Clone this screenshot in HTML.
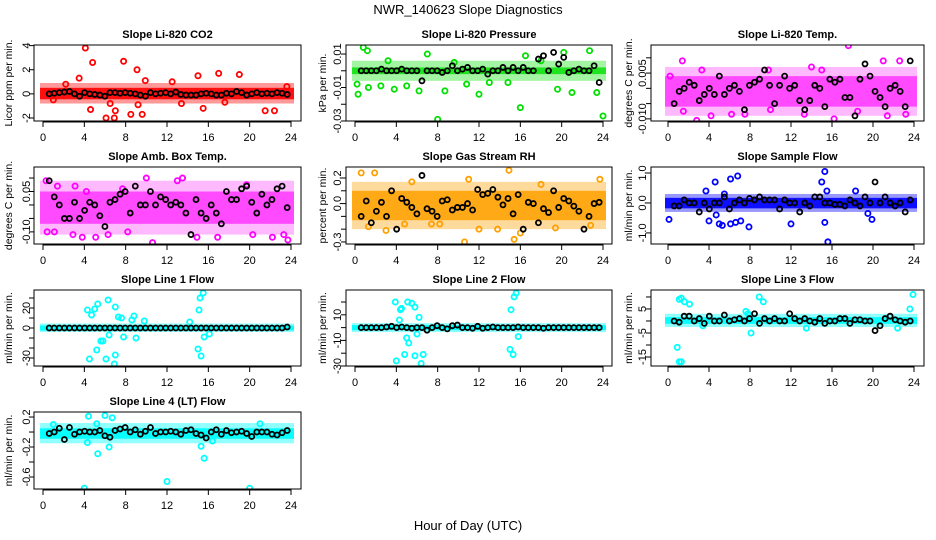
<!DOCTYPE html>
<html><head><meta charset="utf-8"><style>
html,body{margin:0;padding:0;background:#fff;}
svg{display:block;font-family:"Liberation Sans",sans-serif;}
</style></head><body>
<svg id="chart" width="936" height="540" viewBox="0 0 936 540" xmlns="http://www.w3.org/2000/svg">
<text x="468" y="14" font-size="13" text-anchor="middle">NWR_140623  Slope Diagnostics</text>
<text x="468" y="530" font-size="13" text-anchor="middle">Hour of Day (UTC)</text>
</svg>
<script>
const xTicks = [0,4,8,12,16,20,24];
const meanHours = Array.from({length:48},(_,i)=>0.6+i*0.49);

const titles = ["Slope Li-820 CO2","Slope Li-820 Pressure","Slope Li-820 Temp.","Slope Amb. Box Temp.","Slope Gas Stream RH","Slope Sample Flow","Slope Line 1 Flow","Slope Line 2 Flow","Slope Line 3 Flow","Slope Line 4 (LT) Flow"];
const yLabels = ["Licor ppm per min.","kPa per min.","degrees C per min.","degrees C per min.","percent per min.","ml/min per min.","ml/min per min.","ml/min per min.","ml/min per min.","ml/min per min."];
const yRanges = [[-2.25,4.05],[-0.03,0.0154],[-0.0107,0.0142],[-0.145,0.141],[-0.316,0.286],[-1.37,1.2],[-38,38],[-30,29.4],[-18.75,12.9],[-0.76,0.267]];
const yTickVals = [[-2,0,2,4],[-0.03,-0.02,-0.01,0,0.01],[-0.01,-0.005,0,0.005,0.01],[-0.1,-0.05,0,0.05,0.1],[-0.3,-0.2,-0.1,0,0.1,0.2],[-1,0,1],[-30,-20,-10,0,10,20,30],[-30,-20,-10,0,10,20],[-15,-10,-5,0,5,10],[-0.6,-0.4,-0.2,0,0.2]];
const yTickText = [["-2","0","2","4"],["-0.03","","-0.01","","0.01"],["-0.010","","","0.005",""],["-0.10","","","0.05",""],["-0.3","","","0.0","","0.2"],["-1.0","0.0","1.0"],["-30","","","0","","20",""],["-30","","-10","","10",""],["-15","","-5","","5",""],["-0.6","","-0.2","","0.2"]];
const bandLo = [-0.45,-0.002,-0.006,-0.07,-0.13,-0.18,-2.5,-2,-1.2,-0.09];
const bandHi = [0.5,0.002,0.004,0.05,0.1,0.17,2.5,2,1.6,0.05];
const outerLo = [-0.8,-0.006,-0.009,-0.11,-0.2,-0.3,-4,-3.5,-2.5,-0.15];
const outerHi = [0.9,0.006,0.007,0.09,0.17,0.3,4.5,3.5,3,0.12];
const colors = ["#ff0000","#00e000","#ff00ff","#ff00ff","#ffa000","#0000ff","#00ffff","#00ffff","#00ffff","#00ffff"];
const bandOpacity = [0.9,0.8,0.6,0.6,0.85,0.9,0.95,0.95,0.95,0.95];

const outliers = [
 [[4.1,3.8],[4.8,2.6],[7.8,2.7],[9.1,2],[19,1.6],[17,1.7],[15,1.5],[9.9,1.1],[3.5,1.3],[6.1,-2],[6.9,-2],[8.5,-1.7],[9.6,-1.7],[4.6,-1.3],[7,-1.4],[15.5,-1.2],[21.5,-1.4],[22.4,-1.4],[6.5,-0.8],[9.2,-0.9],[12.5,1],[2.2,0.8],[17.6,-0.7],[13.4,-0.8],[1,-0.5],[23.6,0.6]],
 [[0.8,0.014],[1.2,0.012],[7,0.01],[16.5,0.009],[20.2,0.011],[22.7,0.012],[0.2,-0.008],[0.3,-0.014],[1.3,-0.01],[3.8,-0.011],[6.2,-0.012],[8,-0.029],[8.7,-0.012],[12,-0.014],[16,-0.022],[19.6,-0.011],[21,-0.013],[23.4,-0.013],[24,-0.027],[2.5,-0.009],[10.8,-0.008],[14.8,-0.007],[13,-0.007],[5,-0.009],[18,0.006],[3.2,0.006],[9.6,0.005]],
 [[1.4,0.009],[17.6,0.014],[21,0.009],[22.6,0.009],[0.2,0.004],[14,0.007],[15,0.006],[2.8,-0.0105],[16.2,-0.01],[1.5,-0.0075],[4.2,-0.009],[6.2,-0.0085],[7.5,-0.0085],[13.3,-0.0085],[21.4,-0.009],[23.2,-0.0085],[10,-0.007],[18.5,-0.0075],[3.3,0.006],[9.8,0.006]],
 [[0.3,0.09],[1.4,0.07],[3.1,0.07],[10,0.1],[13,0.09],[13.5,0.1],[19.7,0.075],[10.6,-0.14],[23.7,-0.13],[22.2,-0.12],[0.4,-0.1],[1.1,-0.1],[2.9,-0.11],[3.8,-0.12],[5.1,-0.12],[6.3,-0.11],[16.9,-0.12],[20.3,-0.11],[23.3,-0.11],[8.2,-0.1],[14.9,-0.12],[4.2,0.05],[7.7,0.06]],
 [[0.6,0.24],[1.9,0.24],[14.9,0.26],[5.5,0.17],[11,0.19],[23.7,0.19],[10.6,-0.3],[15.4,-0.28],[3,-0.21],[12,-0.2],[13.8,-0.2],[16,-0.23],[1.3,-0.18],[7.4,-0.16],[19.4,-0.19],[22.8,-0.17],[8.2,-0.16],[4.8,-0.16],[18,0.15]],
 [[6.1,0.8],[6.8,0.9],[4.6,0.7],[15.3,1.05],[15,0.7],[15.5,0.4],[3.7,0.4],[5.5,0.3],[0.1,-0.55],[4,-0.6],[5,-0.7],[5.3,-0.75],[6.1,-0.7],[6.6,-0.65],[7.1,-0.6],[7.9,-0.8],[12,-0.7],[15.3,-0.65],[15.6,-1.3],[19.5,-0.35],[19.9,-0.55],[4.7,-0.4],[18.3,0.4]],
 [[4.3,18],[4.7,13],[5,19],[5.3,24],[6.3,28],[7,21],[7.3,11],[7.6,10],[8.8,12],[9.8,7],[8.6,8],[15.1,18],[15.2,30],[15.5,35],[4.5,-31],[5.2,-22],[6.1,-31],[6.9,-36],[7,-27],[6.4,-7],[5.6,-13],[5.8,-13],[7.8,-9],[9,-10],[15,-21],[15.3,-28],[15.6,-9],[16.1,-6],[14.2,6]],
 [[3.9,20],[4.5,15],[5.1,20],[5.5,19],[4.4,14],[6.2,8],[5.8,16],[15.1,14],[15.4,24],[15.6,27],[4,-26],[4.8,-21],[5.8,-22],[6.4,-28],[6.6,-21],[5,-8],[5.2,-12],[6,-5],[15,-17],[15.3,-21],[15.8,-7],[4.3,6]],
 [[1.1,9],[1.3,9.5],[1.6,8],[2.1,7],[0.9,-11],[1.1,-17],[1.3,-17],[7.6,4],[7.8,3],[8,2.5],[8.1,-5],[8.9,10],[9.3,8],[3.4,-2],[13.5,-3],[23.9,11],[23.6,5],[22.4,-3]],
 [[4.4,0.21],[6,0.22],[6.7,0.19],[5.2,0.11],[4,-0.75],[12,-0.66],[20,-0.75],[5.3,-0.29],[15.6,-0.35],[15.3,-0.19],[6.4,-0.2],[4.3,-0.14],[21,0.11],[1,0.1],[16.4,-0.12]]
];

const means = [
 [0,0.05,0.1,0.15,0.2,0,-0.2,0.1,0,-0.05,-0.1,-0.2,0.1,0.1,0.05,0.1,0.05,0,-0.1,-0.2,0.1,0,0.05,0.1,0,0.15,-0.05,-0.1,-0.1,-0.1,0,0.05,0,-0.1,-0.1,0.05,0,0.2,0.1,-0.1,0,0.1,0,0.05,0,0.1,0.05,-0.05],
 [0,0,0,0,0.001,0,0,0,0.001,0,0,0,-0.006,0,0,0,-0.001,0,0.003,0,0.001,0.002,0,0,0.001,-0.002,0,0,0.002,0,0.002,0,0.002,0,0,0.007,0.009,0,0.011,0.004,0.008,-0.001,0,0.001,0,0,0.003,-0.007],
 [-0.005,-0.001,0,0.002,0.001,-0.004,-0.002,0,-0.002,0.004,-0.002,0,0.001,-0.001,-0.007,0.001,0.002,0.003,0.006,0.001,-0.005,0.001,0.004,0,0.001,-0.004,-0.007,-0.004,0.001,0,-0.006,0.003,0.002,0.003,-0.003,-0.003,-0.009,0.003,0.008,0.004,-0.001,-0.003,-0.006,0,0.001,-0.001,-0.006,0.009],
 [0.09,0.03,0,-0.05,-0.05,0.01,-0.05,-0.02,0.01,0,-0.04,-0.08,0.01,0.02,0.04,0.05,-0.03,0.07,0,0,0.05,0,0.03,0.02,0,0.01,0,-0.03,-0.11,0.02,-0.03,-0.05,0,-0.03,-0.07,0.05,0.02,0.02,0.06,0.07,0.01,-0.03,0.04,0,0.02,0.06,0.07,-0.01],
 [-0.1,0.02,-0.15,-0.06,0.01,-0.1,0.1,-0.2,0.04,0.01,-0.03,-0.08,0.22,-0.04,-0.06,-0.1,0.02,0.03,-0.05,-0.03,-0.03,0,-0.05,0.11,0.07,0.08,0.11,0.05,-0.01,0.04,-0.08,0.07,-0.2,0.01,0,-0.15,-0.04,-0.07,0.1,-0.03,0.04,0.02,-0.02,-0.06,-0.2,-0.1,0,0.01],
 [-0.1,-0.1,0.1,0,0,-0.3,0,-0.2,0,0,0.2,-0.2,0,0.1,0,0.15,0.1,0.2,0.1,0.1,0.1,-0.2,0.1,0,0,-0.3,0,-0.1,0.2,0.2,0,0,-0.05,-0.05,-0.1,0.1,0,-0.1,0.2,0,0.7,0,0.2,0,-0.1,0,-0.3,0.1],
 [0,0,0,0,0,0,0,0,0,0,0,0,0,0,0,0,0,0,0,0,0,0,0,0,0,0,0,0,0,0,0,0,0,0,0,0,0,0,0,0,0,0,0,0,0,0,0,1],
 [0,0,0,0,0,0.5,1,0,0.5,0,-0.5,0,0,-2,0,1.5,0,-1,1.5,2,0,0,-0.5,1,-0.5,0,0.5,0,0,0,0,0.5,0,0,0,0,-0.5,0,0,0,0,0,0,0,0,0,0,0],
 [0,-0.5,2,2,0,1,-1,2,0,0,2.5,0,0.5,1,0,1,3,-1,1,0,1,0,0,3,1,0,1,0,-0.5,1,-1,0,0,1,1,-1,0.5,0.5,0,0,-4,-2,1,2,0.5,0,-0.5,0],
 [-0.02,0,0.05,-0.1,0.06,-0.03,0,0.01,0,0,0.02,-0.05,-0.07,0.02,0.04,0.06,0,0.03,-0.03,0.01,0.06,-0.02,0,0,0.01,0,-0.03,0.02,0.03,-0.02,-0.04,-0.08,0,0.03,-0.03,0.02,-0.01,0,0.01,-0.02,-0.06,0,0,0,-0.03,-0.04,-0.01,0.02]
];

const cols = [{l:34,r:301,x0:43,x24:291,lab:8,tl:26},{l:346,r:612,x0:355,x24:603,lab:322,tl:337},{l:651,r:924,x0:668,x24:914,lab:628,tl:642}];
const rows = [{t:45,b:121},{t:167,b:244},{t:290,b:366},{t:412,b:489}];
const NS = "http://www.w3.org/2000/svg";
const svg = document.getElementById("chart");
function mk(tag, attrs, parent){const e=document.createElementNS(NS,tag);for(const k in attrs)e.setAttribute(k,attrs[k]);(parent||svg).appendChild(e);return e;}

titles.forEach((title,p)=>{
  const c = cols[p%3], r = rows[Math.floor(p/3)];
  const g = mk("g",{});
  
  
  const [ymin,ymax] = yRanges[p];
  const xs = h => c.x0 + (h/24)*(c.x24-c.x0);
  const ys = v => r.b - (v-ymin)/(ymax-ymin)*(r.b-r.t);
  const clip = "clip"+p;
  const cp = mk("clipPath",{id:clip},g); mk("rect",{x:c.l,y:r.t,width:c.r-c.l,height:r.b-r.t},cp);
  const pg = mk("g",{"clip-path":"url(#"+clip+")"},g);
  const outer = mk("rect",{x:xs(0)-3,y:ys(outerHi[p]),width:xs(24)-xs(0)+6,height:ys(outerLo[p])-ys(outerHi[p]),fill:colors[p],opacity:bandOpacity[p]*0.45},pg);
  
  
  const band = mk("rect",{x:xs(0)-3,y:ys(bandHi[p]),width:xs(24)-xs(0)+6,height:ys(bandLo[p])-ys(bandHi[p]),fill:colors[p],opacity:bandOpacity[p]},pg);
  
  
  outliers[p].forEach(pt=>{
    const ci = mk("circle",{cx:xs(pt[0]),cy:ys(pt[1]),r:2.6,fill:"none",stroke:colors[p],"stroke-width":1.8},pg);
    
    
  });
  means[p].forEach((v,i)=>{
    const ci = mk("circle",{cx:xs(meanHours[i]),cy:ys(v),r:2.5,fill:"none",stroke:"#000","stroke-width":1.8},pg);
    
    
  });
  const box = mk("rect",{x:c.l,y:r.t,width:c.r-c.l,height:r.b-r.t,fill:"none",stroke:"#000","stroke-width":1},g);
  
  
  const tt = mk("text",{x:(c.l+c.r)/2,y:r.t-7,"font-size":11,"font-weight":"bold","text-anchor":"middle"},g);
  tt.textContent = title;
  
  
  mk("line",{x1:xs(0),x2:xs(24),y1:r.b+1,y2:r.b+1,stroke:"#000"},g);
  xTicks.forEach(h=>{
    mk("line",{x1:xs(h),x2:xs(h),y1:r.b,y2:r.b+6,stroke:"#000"},g);
    const t = mk("text",{x:xs(h),y:r.b+20,"font-size":11,"text-anchor":"middle"},g);
    t.textContent = h;
    
    
  });
  yTickVals[p].forEach((v,i)=>{
    const y = ys(v);
    if (y < r.t-1 || y > r.b+1) return;
    mk("line",{x1:c.l-5,x2:c.l,y1:y,y2:y,stroke:"#000"},g);
    if (yTickText[p][i]) {
      const t = mk("text",{x:0,y:0,"font-size":11,"text-anchor":"middle",transform:`translate(${c.tl+4},${y}) rotate(-90)`},g);
      t.textContent = yTickText[p][i];
      
      
    }
  });
  const yl = mk("text",{x:0,y:0,"font-size":10.5,"text-anchor":"middle",transform:`translate(${c.lab+4},${(r.t+r.b)/2}) rotate(-90)`},g);
  yl.textContent = yLabels[p];
  
  
});
</script>
</body></html>
